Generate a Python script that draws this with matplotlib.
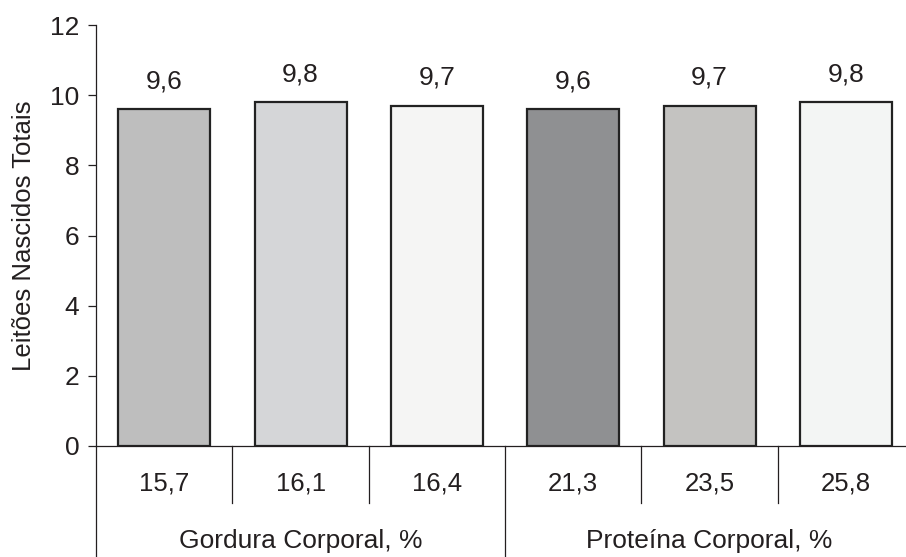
import numpy as np
import matplotlib.pyplot as plt
import matplotlib.transforms as mtransforms

plt.rcParams['font.family'] = ['Liberation Sans', 'DejaVu Sans']

# Dados do gráfico
grupos = ['Gordura Corporal, %', 'Proteína Corporal, %']
categorias = ['15,7', '16,1', '16,4', '21,3', '23,5', '25,8']
leitoes = [9.6, 9.8, 9.7, 9.6, 9.7, 9.8]
cores = ['#bebebe', '#d5d6d8', '#f5f5f4', '#8f9092', '#c4c3c1', '#f3f5f4']

fig = plt.figure(figsize=(9.06, 5.57), dpi=100)
ax = fig.add_axes([0.106, 0.1993, 0.903, 0.7557])

x = np.arange(len(leitoes))
ax.bar(x, leitoes, width=0.675, color=cores, edgecolor='#222222', linewidth=1.6, zorder=3)

for xi, v in zip(x, leitoes):
    ax.annotate(f'{v:.1f}'.replace('.', ','), (xi, v), xytext=(0, 15), textcoords='offset points',
                ha='center', va='baseline', fontsize=19, color='#231f20')

ax.set_xlim(-0.5, len(leitoes) - 0.5)
ax.set_ylim(0, 12)
ax.set_yticks(np.arange(0, 13, 2))
ax.tick_params(axis='y', direction='out', length=6, width=0.9, pad=6, labelsize=19, colors='#231f20')
ax.set_xticks([])
ax.set_ylabel('Leitões Nascidos Totais', fontsize=18.5, color='#231f20', labelpad=10)

for lado in ['top', 'right']:
    ax.spines[lado].set_visible(False)
for lado in ['left', 'bottom']:
    ax.spines[lado].set_linewidth(0.9)
    ax.spines[lado].set_color('#231f20')

# Eixo x em dois níveis
trans = mtransforms.blended_transform_factory(ax.transData, ax.transAxes)
n_por_grupo = len(categorias) // len(grupos)
for i in range(len(categorias) + 1):
    longo = i % n_por_grupo == 0
    y_fim = -0.27 if longo else -0.135
    ax.plot([i - 0.5, i - 0.5], [0, y_fim], transform=trans, color='#231f20',
            linewidth=0.9, clip_on=False)

for xi, cat in zip(x, categorias):
    ax.text(xi, -0.088, cat, transform=trans, ha='center', va='center', fontsize=18.5, color='#231f20')

for g, nome in enumerate(grupos):
    centro = g * n_por_grupo + (n_por_grupo - 1) / 2
    ax.text(centro, -0.226, nome, transform=trans, ha='center', va='center', fontsize=19, color='#231f20')

fig.savefig('out.png', dpi=100)
